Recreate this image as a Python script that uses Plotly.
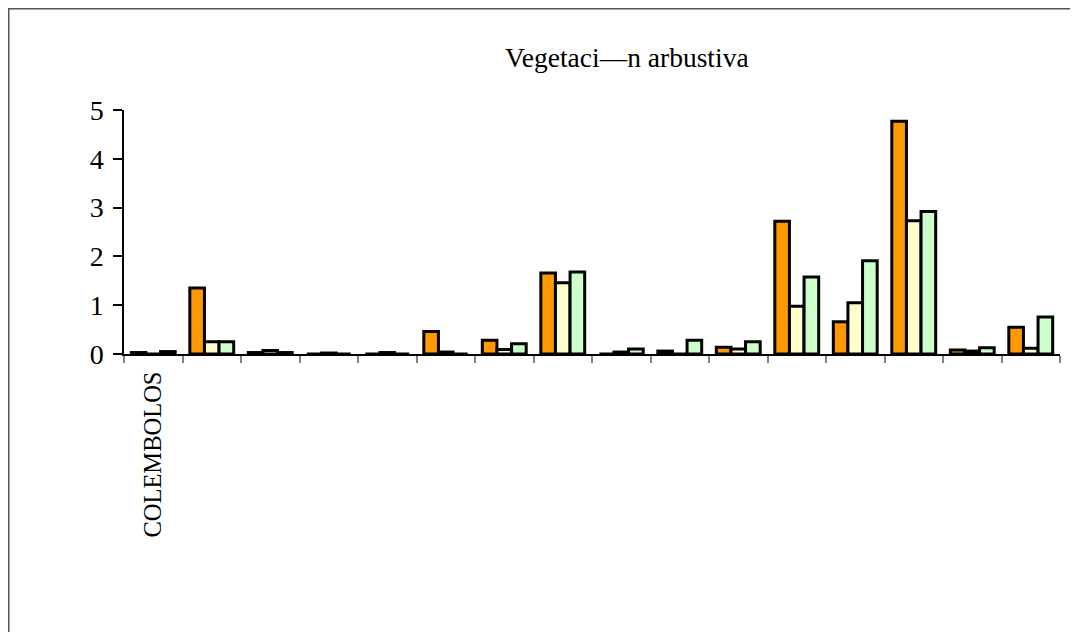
import plotly.graph_objects as go

categories = ["COLEMBOLOS", "grupo 2", "grupo 3", "grupo 4", "grupo 5", "grupo 6",
              "grupo 7", "grupo 8", "grupo 9", "grupo 10", "grupo 11", "grupo 12",
              "grupo 13", "grupo 14", "grupo 15", "grupo 16"]
tick_labels = ["COLEMBOLOS"] + [""] * 15

serie_1 = [0.03, 1.35, 0.03, 0.0, 0.0, 0.46, 0.28, 1.66, 0.0, 0.06, 0.14, 2.72, 0.66, 4.77, 0.08, 0.55]
serie_2 = [0.0, 0.25, 0.07, 0.02, 0.03, 0.04, 0.09, 1.46, 0.04, 0.0, 0.10, 0.98, 1.05, 2.73, 0.06, 0.12]
serie_3 = [0.05, 0.25, 0.03, 0.0, 0.0, 0.0, 0.21, 1.68, 0.10, 0.28, 0.25, 1.58, 1.91, 2.92, 0.13, 0.76]

colors = ["#FF9900", "#FFFFCC", "#CCFFCC"]
names = ["Serie 1", "Serie 2", "Serie 3"]

fig = go.Figure()
for vals, col, nm in zip([serie_1, serie_2, serie_3], colors, names):
    fig.add_trace(go.Bar(x=categories, y=vals, name=nm,
                         marker=dict(color=col, line=dict(color="black", width=3))))

OFF = 8  # page body margin
W, H = 1078, 632
L, R, T, B = 124 - OFF, 1060 - OFF, 110 - OFF, 354 - OFF
pw, ph = R - L, B - T


def px_x(p):
    return (p - L) / pw


def px_y(p):
    return (B - p) / ph


fig.update_layout(
    width=W, height=H,
    margin=dict(l=L, r=W - R, t=T, b=H - B),
    paper_bgcolor="white", plot_bgcolor="white",
    barmode="group", bargap=0.25, bargroupgap=0,
    showlegend=False,
    font=dict(family="Liberation Serif", color="black"),
    title=dict(text="Vegetaci—n arbustiva", x=(505 - OFF) / W, xanchor="left", xref="container",
               y=1 - (57 - OFF) / H, yanchor="middle", yref="container",
               font=dict(size=27.5, family="Liberation Serif", color="black")),
    xaxis=dict(type="category", tickson="boundaries", ticks="outside", ticklen=7,
               tickcolor="#808080", tickwidth=1.5,
               tickvals=categories, ticktext=tick_labels, tickangle=-90,
               ticklabelstandoff=6,
               tickfont=dict(size=24.5, family="Liberation Serif"),
               showline=True, linecolor="black", linewidth=1.5,
               showgrid=False, zeroline=False),
    yaxis=dict(range=[0, 5], tickvals=[0, 1, 2, 3, 4, 5], ticks="outside", ticklen=9,
               tickcolor="black", tickwidth=1.5, ticklabelstandoff=4,
               tickfont=dict(size=28, family="Liberation Serif"),
               showline=True, linecolor="black", linewidth=1.5,
               showgrid=False, zeroline=False),
    shapes=[
        dict(type="line", xref="paper", yref="paper",
             x0=px_x(0), x1=px_x(1100), y0=px_y(0), y1=px_y(0),
             line=dict(color="#555555", width=3)),
        dict(type="line", xref="paper", yref="paper",
             x0=px_x(0), x1=px_x(0), y0=px_y(0), y1=px_y(700),
             line=dict(color="#555555", width=3)),
    ],
)
fig.write_html("out.html")
